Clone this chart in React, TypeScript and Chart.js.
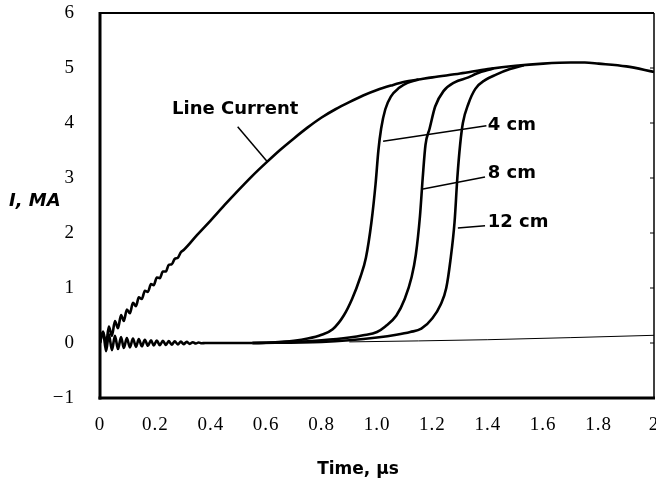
import React, { useEffect, useRef } from "react";
import { Chart, registerables } from "chart.js";

Chart.register(...registerables);

// ---- tick labels ----
const xTickLabels = ["0", "0.2", "0.4", "0.6", "0.8", "1.0", "1.2", "1.4", "1.6", "1.8", "2"];
const yTickLabels = ["\u22121", "0", "1", "2", "3", "4", "5", "6"];

// ---- Line current (MA) vs time (µs) ----
const lineCurrentTime = [
  0, 0.011, 0.022, 0.032, 0.043, 0.054, 0.065, 0.076, 0.086, 0.097, 0.108, 0.119, 0.13, 0.14,
  0.151, 0.162, 0.173, 0.184, 0.194, 0.205, 0.216, 0.227, 0.238, 0.248, 0.259, 0.27, 0.281,
  0.292, 0.302, 0.35, 0.4, 0.45, 0.5, 0.55, 0.6, 0.65, 0.7, 0.75, 0.8, 0.85, 0.9, 0.95, 1.0,
  1.05, 1.1, 1.15, 1.2, 1.3, 1.4, 1.5, 1.6, 1.7, 1.75, 1.8, 1.9, 2.0,
];
const lineCurrentValue = [
  0, 0.21, -0.01, 0.3, 0.13, 0.4, 0.27, 0.51, 0.4, 0.61, 0.54, 0.73, 0.67, 0.83,
  0.8, 0.95, 0.93, 1.07, 1.05, 1.19, 1.18, 1.3, 1.3, 1.42, 1.43, 1.53, 1.55,
  1.65, 1.69, 1.96, 2.23, 2.51, 2.78, 3.04, 3.28, 3.51, 3.72, 3.92, 4.1, 4.25, 4.38, 4.5, 4.6,
  4.68, 4.75, 4.79, 4.83, 4.9, 4.98, 5.04, 5.08, 5.1, 5.1, 5.08, 5.03, 4.93,
];

// ---- common early ringing of the load currents ----
const ringTime = [
  0, 0.011, 0.022, 0.032, 0.043, 0.054, 0.065, 0.076, 0.086, 0.097, 0.108, 0.119, 0.13, 0.14,
  0.151, 0.162, 0.173, 0.184, 0.194, 0.205, 0.216, 0.227, 0.238, 0.248, 0.259, 0.27, 0.281,
  0.292, 0.302, 0.313, 0.324, 0.335, 0.346, 0.356, 0.367, 0.38, 0.45, 0.55,
];
const ringValue = [
  0, 0.2, -0.15, 0.16, -0.13, 0.13, -0.11, 0.11, -0.09, 0.09, -0.08, 0.08, -0.07, 0.07,
  -0.06, 0.06, -0.05, 0.05, -0.045, 0.045, -0.04, 0.04, -0.035, 0.035, -0.03, 0.03, -0.025,
  0.025, -0.02, 0.02, -0.015, 0.015, -0.01, 0.01, -0.005, 0, 0, 0,
];

// ---- load currents at 4, 8, 12 cm ----
const load4Time = [0.55, 0.62, 0.7, 0.75, 0.8, 0.84, 0.88, 0.91, 0.94, 0.96, 0.98, 0.995, 1.005, 1.015, 1.03, 1.05, 1.08, 1.11, 1.15];
const load4Value = [0, 0.01, 0.04, 0.08, 0.15, 0.25, 0.5, 0.8, 1.2, 1.55, 2.2, 2.9, 3.5, 3.9, 4.25, 4.48, 4.64, 4.73, 4.79];

const load8Time = [0.55, 0.7, 0.8, 0.9, 0.95, 1.0, 1.03, 1.07, 1.1, 1.125, 1.14, 1.155, 1.165, 1.175, 1.19, 1.21, 1.24, 1.28, 1.33, 1.36, 1.42];
const load8Value = [0, 0.02, 0.05, 0.1, 0.14, 0.2, 0.3, 0.5, 0.8, 1.2, 1.6, 2.3, 3.0, 3.6, 3.9, 4.3, 4.58, 4.74, 4.83, 4.9, 4.99];

const load12Time = [0.55, 0.8, 0.9, 1.0, 1.07, 1.12, 1.16, 1.2, 1.23, 1.25, 1.265, 1.28, 1.29, 1.3, 1.31, 1.33, 1.355, 1.39, 1.43, 1.48, 1.53];
const load12Value = [0, 0.02, 0.05, 0.1, 0.15, 0.2, 0.26, 0.45, 0.7, 1.0, 1.5, 2.2, 3.0, 3.6, 4.0, 4.35, 4.62, 4.78, 4.88, 4.98, 5.05];

// ---- thin trailing baseline ----
const baselineTime = [0.9, 1.4, 2.0];
const baselineValue = [0.02, 0.06, 0.14];

// ---- labels with leader lines (data coordinates) ----
const labelTexts = ["Line Current", "4 cm", "8 cm", "12 cm"];
const labelAt = [[0.26, 4.25], [1.4, 3.95], [1.4, 3.09], [1.4, 2.2]];
const leaderFrom = [[0.497, 3.93], [1.022, 3.67], [1.166, 2.8], [1.292, 2.09]];
const leaderTo = [[0.605, 3.29], [1.395, 3.95], [1.39, 3.02], [1.39, 2.13]];

const pts = (t: number[], v: number[]) => t.map((x, i) => ({ x, y: v[i] }));

const SANS = '"DejaVu Sans", "Liberation Sans", Arial, sans-serif';
const SERIF = '"Liberation Serif", "Times New Roman", serif';

const framePlugin = {
  id: "frame",
  beforeDraw(chart: any) {
    chart.ctx.letterSpacing = "1px";
  },
  afterDraw(chart: any) {
    const { ctx, chartArea } = chart;
    const { left, right, top, bottom } = chartArea;
    const xs = chart.scales.x;
    const ys = chart.scales.y;
    ctx.save();
    ctx.letterSpacing = "0px";
    ctx.strokeStyle = "#000";
    ctx.fillStyle = "#000";
    ctx.lineCap = "butt";
    const line = (x1: number, y1: number, x2: number, y2: number, w: number) => {
      ctx.lineWidth = w;
      ctx.beginPath();
      ctx.moveTo(x1, y1);
      ctx.lineTo(x2, y2);
      ctx.stroke();
    };
    // frame
    line(left, top - 1, left, bottom + 1.5, 3);
    line(left - 1.5, bottom, right + 1, bottom, 3);
    line(left, top, right, top, 2);
    line(right, top, right, bottom, 1.5);
    // inner ticks on right side
    for (let v = 0; v <= 5; v++) {
      const y = ys.getPixelForValue(v);
      line(right - 4, y, right, y, 1);
    }
    // leaders
    for (let i = 0; i < labelTexts.length; i++) {
      line(
        xs.getPixelForValue(leaderFrom[i][0]),
        ys.getPixelForValue(leaderFrom[i][1]),
        xs.getPixelForValue(leaderTo[i][0]),
        ys.getPixelForValue(leaderTo[i][1]),
        1.5
      );
    }
    // label texts
    ctx.font = `bold 18px ${SANS}`;
    ctx.textAlign = "left";
    ctx.textBaseline = "middle";
    for (let i = 0; i < labelTexts.length; i++) {
      ctx.fillText(labelTexts[i], xs.getPixelForValue(labelAt[i][0]), ys.getPixelForValue(labelAt[i][1]));
    }
    // axis titles
    ctx.font = `italic bold 18px ${SANS}`;
    ctx.fillText("I, MA", 9, 201);
    ctx.font = `bold 17px ${SANS}`;
    ctx.textAlign = "center";
    ctx.fillText("Time, \u00b5s", 358, 470);
    ctx.restore();
    ctx.letterSpacing = "0px";
  },
};

export default function App() {
  const ref = useRef<HTMLCanvasElement | null>(null);
  useEffect(() => {
    document.body.style.margin = "0";
    const canvas = ref.current;
    if (!canvas) return;
    const common = {
      borderColor: "#000",
      backgroundColor: "#000",
      pointRadius: 0,
      fill: false,
      cubicInterpolationMode: "monotone" as const,
    };
    const chart = new Chart(canvas, {
      type: "line",
      data: {
        datasets: [
          { ...common, label: "baseline", data: pts(baselineTime, baselineValue), borderWidth: 1 },
          { ...common, label: "Line Current", data: pts(lineCurrentTime, lineCurrentValue), borderWidth: 2.6 },
          { ...common, label: "ring", data: pts(ringTime, ringValue), borderWidth: 2.6 },
          { ...common, label: "4 cm", data: pts(load4Time, load4Value), borderWidth: 2.6 },
          { ...common, label: "8 cm", data: pts(load8Time, load8Value), borderWidth: 2.6 },
          { ...common, label: "12 cm", data: pts(load12Time, load12Value), borderWidth: 2.6 },
        ],
      },
      options: {
        responsive: false,
        animation: false,
        devicePixelRatio: 1,
        parsing: false as any,
        layout: { padding: { left: 0, right: 2, top: 13, bottom: 0 } },
        plugins: { legend: { display: false }, tooltip: { enabled: false }, title: { display: false } },
        scales: {
          x: {
            type: "linear",
            min: 0,
            max: 2,
            grid: { display: false },
            border: { display: false },
            ticks: {
              stepSize: 0.2,
              autoSkip: false,
              maxRotation: 0,
              padding: 8,
              color: "#000",
              font: { family: SERIF, size: 19 },
              callback: (v: any) => xTickLabels[Math.round(Number(v) / 0.2)] ?? "",
            },
            afterFit: (s: any) => {
              s.height = 86;
              s.paddingLeft = 0;
              s.paddingRight = 0;
            },
          },
          y: {
            type: "linear",
            min: -1,
            max: 6,
            grid: { display: false },
            border: { display: false },
            ticks: {
              stepSize: 1,
              padding: 17,
              color: "#000",
              font: { family: SERIF, size: 19 },
              callback: (v: any) => yTickLabels[Math.round(Number(v)) + 1] ?? "",
            },
            afterFit: (s: any) => {
              s.width = 100;
              s.paddingTop = 0;
              s.paddingBottom = 0;
            },
          },
        },
      },
      plugins: [framePlugin],
    });
    return () => chart.destroy();
  }, []);
  return <canvas ref={ref} width={656} height={484} style={{ display: "block" }} />;
}
